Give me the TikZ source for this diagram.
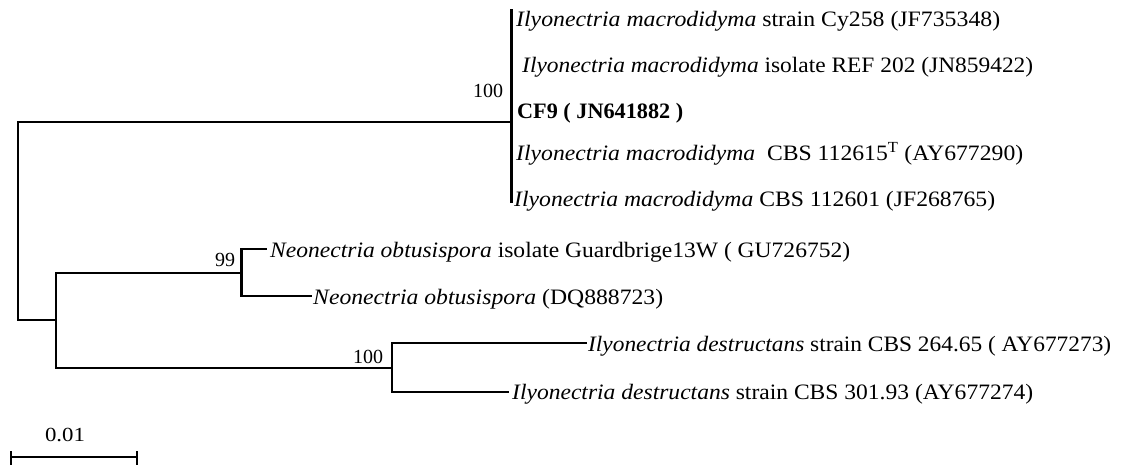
\documentclass[tikz,border=0pt]{standalone}
\usepackage{fontspec}
\setmainfont{Liberation Serif}
\usepackage{graphicx}
\newlength\tw
\newcommand\fitw[2]{\settowidth\tw{#2}\edef\fitfac{\fpeval{#1/\tw}}\scalebox{\fitfac}[1]{#2}}
\tikzset{
  branch/.style={line width=2.3pt, line cap=rect},
  leaf/.style={anchor=base west, inner sep=0pt, font=\fontsize{22}{26}\selectfont},
  boot/.style={inner sep=0pt, font=\fontsize{20}{24}\selectfont},
}
\begin{document}
\begin{tikzpicture}[x=1pt,y=-1pt]
\useasboundingbox (0,0) rectangle (1121,464);
% internal nodes
\coordinate (root) at (18,221);
\coordinate (A) at (511.5,121.7);
\coordinate (Atop) at (511.5,10);
\coordinate (Abot) at (511.5,202);
\coordinate (B) at (56,320);
\coordinate (C) at (241.5,272.7);
\coordinate (D) at (392,367.7);
% leaves
\node[leaf] (l1) at (516,26) {\fitw{484}{\textit{Ilyonectria macrodidyma} strain Cy258 (JF735348)}};
\node[leaf] (l2) at (522,72) {\fitw{511}{\textit{Ilyonectria macrodidyma} isolate REF 202 (JN859422)}};
\node[leaf] (l3) at (517,118.5) {\fitw{166}{\textbf{CF9 ( JN641882 )}}};
\node[leaf] (l4) at (516,160) {\fitw{507}{\textit{Ilyonectria macrodidyma}\ \ CBS 112615\textsuperscript{T} (AY677290)}};
\node[leaf] (l5) at (514,206) {\fitw{481}{\textit{Ilyonectria macrodidyma} CBS 112601 (JF268765)}};
\node[leaf] (l6) at (270,257) {\fitw{580}{\textit{Neonectria obtusispora} isolate Guardbrige13W ( GU726752)}};
\node[leaf] (l7) at (313,304) {\fitw{350}{\textit{Neonectria obtusispora} (DQ888723)}};
\node[leaf] (l8) at (588,351) {\fitw{523}{\textit{Ilyonectria destructans} strain CBS 264.65 ( AY677273)}};
\node[leaf] (l9) at (512,399.5) {\fitw{521}{\textit{Ilyonectria destructans} strain CBS 301.93 (AY677274)}};
% tip points of the leaf branches
\coordinate (t6) at (266,249);
\coordinate (t7) at (311,296);
\coordinate (t8) at (586,343.3);
\coordinate (t9) at (508,391.7);
% branches
\draw[branch] (Atop) -- (Abot);
\draw[branch] (A) -| (root) |- (B);
\draw[branch] (C) -| (B) |- (D);
\draw[branch] (t6) -| (C) |- (t7);
\draw[branch] (t8) -| (D) |- (t9);
% bootstrap values
\node[boot] (b1) at (488,91) {100};
\node[boot] (b2) at (225,259.5) {99};
\node[boot] (b3) at (368,357) {100};
% scale bar
\coordinate (s1) at (11,457);
\coordinate (s2) at (137,457);
\draw[line width=2.3pt] (s1) -- (s2);
\draw[line width=2.3pt] ([yshift=-8pt]s1) -- ([yshift=6.5pt]s1);
\draw[line width=2.3pt] ([yshift=-8pt]s2) -- ([yshift=6.5pt]s2);
\node[boot] (sl) at (65,435) {\fitw{40}{0.01}};
\end{tikzpicture}
\end{document}
